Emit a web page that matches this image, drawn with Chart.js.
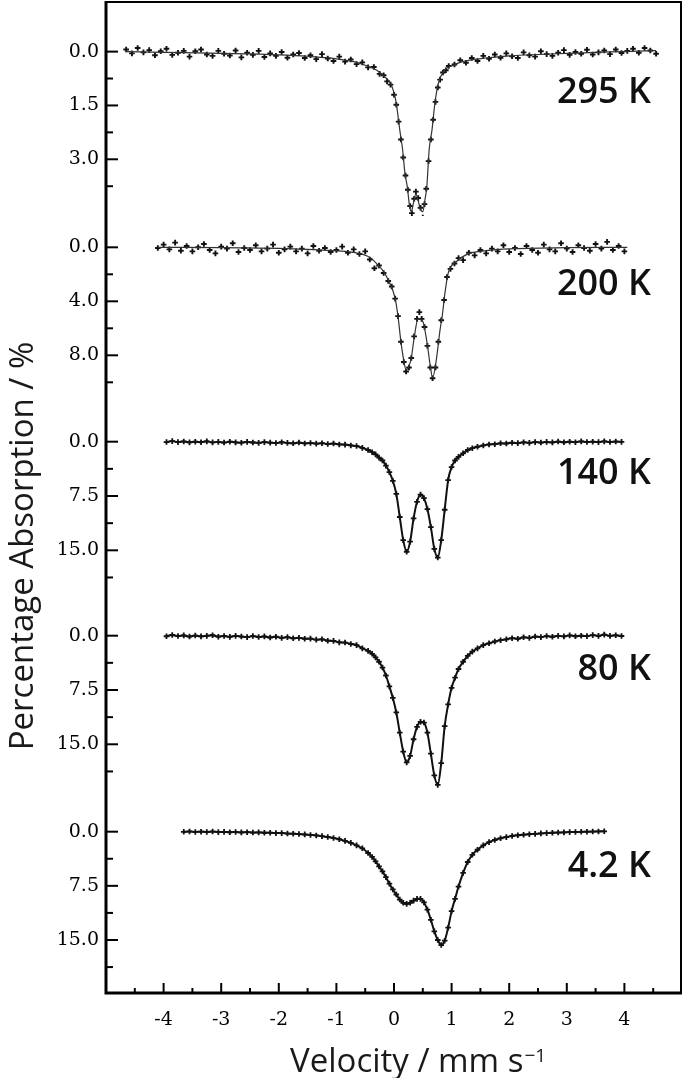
<!DOCTYPE html>
<html>
<head>
<meta charset="utf-8">
<script src="https://cdn.jsdelivr.net/npm/chart.js@4.4.1/dist/chart.umd.min.js"></script>
<style>
  html, body { margin: 0; padding: 0; background: #fff; }
  #wrap { position: relative; width: 685px; height: 1078px; }
</style>
</head>
<body>
<div id="wrap"><canvas id="mossbauer"></canvas></div>
<script>
// spectra from top to bottom
const temperatures = ['295 K', '200 K', '140 K', '80 K', '4.2 K'];

// velocity axis, mm/s
const velTicks = [-4, -3, -2, -1, 0, 1, 2, 3, 4];
const velMinorTicks = [-4.5, -3.5, -2.5, -1.5, -0.5, 0.5, 1.5, 2.5, 3.5, 4.5];

// absorption ticks (%) for each spectrum
const absTicks = [[0, 1.5, 3.0], [0, 4, 8], [0, 7.5, 15], [0, 7.5, 15], [0, 7.5, 15]];
const absMinorTicks = [[0.75, 2.25, 3.75], [2, 6, 10], [3.75, 11.25, 18.75], [3.75, 11.25, 18.75], [3.75, 11.25, 18.75]];

// ---- 295 K ----
const vel295 = [-4.65,-4.55,-4.45,-4.35,-4.25,-4.15,-4.05,-3.95,-3.85,-3.75,-3.65,-3.55,-3.45,-3.35,-3.25,-3.15,-3.05,-2.95,-2.85,-2.75,-2.65,-2.55,-2.45,-2.35,-2.25,-2.15,-2.05,-1.95,-1.85,-1.75,-1.65,-1.55,-1.45,-1.35,-1.25,-1.15,-1.05,-0.95,-0.85,-0.75,-0.65,-0.55,
  -0.45,-0.35,-0.25,-0.18,-0.12,-0.06,0.00,0.04,0.08,0.12,0.16,0.20,0.24,0.28,0.31,0.35,0.38,0.42,0.46,0.50,0.53,0.56,0.60,0.64,0.68,0.72,0.76,0.80,0.85,0.90,0.95,1.05,
  1.15,1.25,1.35,1.45,1.55,1.65,1.75,1.85,1.95,2.05,2.15,2.25,2.35,2.45,2.55,2.65,2.75,2.85,2.95,3.05,3.15,3.25,3.35,3.45,3.55,3.65,3.75,3.85,3.95,4.05,4.15,4.25,4.35,4.45,4.55];
const abs295 = [-0.06,0.05,-0.10,0.02,-0.04,0.10,-0.01,-0.08,0.09,0.03,-0.02,0.14,-0.01,-0.06,0.08,0.12,-0.02,0.06,0.11,-0.03,0.16,0.03,0.09,-0.02,0.15,0.05,0.12,0.01,0.17,0.08,0.04,0.18,0.10,0.21,0.07,0.19,0.26,0.14,0.28,0.22,0.35,0.30,
  0.44,0.43,0.62,0.66,0.83,0.92,1.20,1.48,1.95,2.45,2.95,3.45,3.85,4.30,4.50,4.10,3.90,4.08,4.35,4.62,4.25,3.82,3.05,2.45,1.90,1.40,1.00,0.78,0.58,0.52,0.40,0.36,
  0.24,0.31,0.18,0.26,0.12,0.20,0.08,0.17,0.05,0.13,0.18,0.02,0.10,0.14,-0.01,0.07,0.12,0.03,-0.04,0.09,0.01,0.06,-0.05,0.08,0.02,-0.03,0.07,-0.06,0.04,-0.02,-0.08,0.03,-0.10,-0.03,0.06];
const fitVel295 = [-4.65,-4,-3,-2,-1.5,-1,-0.7,-0.5,-0.3,-0.15,-0.06,0,0.04,0.1,0.15,0.19,0.23,0.27,0.3,0.34,0.38,0.42,0.46,0.5,0.54,0.57,0.61,0.66,0.71,0.77,0.88,1.0,1.19,1.48,2,2.5,3,3.5,4,4.55];
const fit295 = [0,0.02,0.05,0.09,0.13,0.2,0.28,0.38,0.52,0.72,0.88,1.15,1.44,2.18,2.74,3.39,3.76,4.3,4.46,4.2,3.97,4.15,4.4,4.46,4.1,3.76,2.74,2.18,1.44,0.88,0.51,0.4,0.28,0.2,0.12,0.08,0.05,0.02,0,-0.03];

// ---- 200 K ----
const vel200 = [-4.1,-4.0,-3.9,-3.8,-3.7,-3.6,-3.5,-3.4,-3.3,-3.2,-3.1,-3.0,-2.9,-2.8,-2.7,-2.6,-2.5,-2.4,-2.3,-2.2,-2.1,-2.0,-1.9,-1.8,-1.7,-1.6,-1.5,-1.4,-1.3,-1.2,-1.1,-1.0,-0.9,-0.8,-0.7,-0.6,-0.5,
  -0.42,-0.34,-0.26,-0.18,-0.10,-0.04,0.02,0.07,0.12,0.17,0.21,0.26,0.30,0.35,0.40,0.44,0.48,0.53,0.58,0.63,0.67,0.72,0.77,0.82,0.87,0.92,0.98,1.05,1.12,1.2,1.3,1.4,
  1.5,1.6,1.7,1.8,1.9,2.0,2.1,2.2,2.3,2.4,2.5,2.6,2.7,2.8,2.9,3.0,3.1,3.2,3.3,3.4,3.5,3.6,3.7,3.8,3.9,4.0];
const abs200 = [0.05,-0.2,0.15,-0.35,0.25,-0.1,0.3,0.0,-0.25,0.2,0.45,-0.05,0.1,-0.3,0.35,0.05,0.2,-0.15,0.3,0.1,-0.2,0.4,0.15,-0.05,0.3,0.1,0.45,-0.1,0.25,0.05,0.35,0.2,-0.05,0.4,0.15,0.5,0.3,
  0.9,1.55,1.35,1.9,2.5,2.9,3.8,5.1,7.0,8.5,9.2,8.9,8.2,6.6,5.3,4.8,5.3,5.9,7.3,8.9,9.7,8.9,7.0,5.4,3.9,2.2,1.6,1.2,0.8,0.95,0.4,0.6,
  0.2,0.45,0.1,0.3,-0.15,0.35,0.05,0.5,-0.1,0.2,0.4,-0.2,0.15,0.3,-0.3,0.1,0.35,-0.15,0.05,0.25,-0.25,0.1,-0.4,0.2,-0.1,0.3];
const fitVel200 = [-4.1,-3,-2,-1.5,-1.15,-0.8,-0.56,-0.4,-0.28,-0.18,-0.1,0.02,0.07,0.12,0.17,0.21,0.26,0.30,0.35,0.42,0.47,0.51,0.58,0.63,0.67,0.73,0.80,0.84,0.88,0.94,1.08,1.31,1.6,2.0,3.0,4.05];
const fit200 = [0,0.02,0.08,0.15,0.22,0.32,0.5,0.8,1.31,1.8,2.42,3.78,5.14,6.99,8.4,9.09,8.8,8.2,6.7,5.26,5.35,5.6,7.24,8.8,9.66,8.47,6.1,5.0,3.53,1.93,1.07,0.45,0.25,0.12,0.03,0];

// ---- 140 K and 80 K (same channels) ----
const velLow = [-3.95,-3.85,-3.75,-3.65,-3.55,-3.45,-3.35,-3.25,-3.15,-3.05,-2.95,-2.85,-2.75,-2.65,-2.55,-2.45,-2.35,-2.25,-2.15,-2.05,-1.95,-1.85,-1.75,-1.65,-1.55,-1.45,-1.35,-1.25,-1.15,-1.05,-0.95,-0.85,-0.75,-0.65,-0.55,-0.45,
  -0.38,-0.32,-0.26,-0.20,-0.14,-0.08,-0.02,0.04,0.10,0.16,0.22,0.28,0.34,0.40,0.46,0.52,0.58,0.64,0.70,0.76,0.82,0.88,0.94,1.00,1.06,1.12,1.20,1.28,1.36,1.45,
  1.55,1.65,1.75,1.85,1.95,2.05,2.15,2.25,2.35,2.45,2.55,2.65,2.75,2.85,2.95,3.05,3.15,3.25,3.35,3.45,3.55,3.65,3.75,3.85,3.95];
const abs140 = [0.05,-0.08,0.06,-0.03,0.09,0.0,0.07,-0.05,0.1,0.02,0.12,0.0,0.09,0.14,0.03,0.11,0.16,0.06,0.13,0.19,0.08,0.17,0.22,0.12,0.24,0.18,0.27,0.21,0.32,0.26,0.38,0.40,0.52,0.60,0.85,1.15,
  1.45,1.75,2.2,2.6,3.3,4.2,5.4,7.2,10.4,13.6,15.2,13.8,10.6,8.3,7.3,7.8,9.3,11.8,14.8,16.0,13.6,9.4,5.3,3.5,2.6,2.1,1.6,1.15,0.9,0.7,
  0.52,0.38,0.35,0.22,0.25,0.14,0.2,0.09,0.16,0.06,0.12,0.03,0.1,-0.02,0.08,0.01,0.07,-0.04,0.05,0.0,0.06,-0.05,0.04,-0.02,0.03];
const abs80 = [0.08,-0.1,0.05,-0.04,0.12,-0.02,0.1,0.02,-0.06,0.14,0.04,0.16,0.02,0.12,0.2,0.05,0.18,0.1,0.25,0.14,0.3,0.2,0.36,0.3,0.42,0.4,0.55,0.5,0.7,0.72,0.92,0.95,1.15,1.3,1.75,2.1,
  2.5,3.0,3.6,4.4,5.5,7.0,8.6,10.6,13.4,16.0,17.5,16.6,14.3,12.6,11.9,12.0,13.4,16.3,19.3,20.6,17.6,12.5,9.5,7.2,5.8,4.6,3.6,2.8,2.2,1.75,
  1.3,1.05,0.8,0.62,0.5,0.35,0.42,0.22,0.3,0.12,0.2,0.05,0.15,0.02,0.1,-0.04,0.08,0.0,0.06,-0.08,0.03,-0.15,0.02,-0.05,0.04];

// ---- 4.2 K ----
const vel4 = [-3.65,-3.55,-3.45,-3.35,-3.25,-3.15,-3.05,-2.95,-2.85,-2.75,-2.65,-2.55,-2.45,-2.35,-2.25,-2.15,-2.05,-1.95,-1.85,-1.75,-1.65,-1.55,-1.45,-1.35,-1.25,-1.15,-1.05,-0.95,-0.85,-0.75,-0.65,-0.55,-0.45,
  -0.38,-0.32,-0.26,-0.20,-0.14,-0.08,-0.02,0.04,0.10,0.16,0.22,0.28,0.34,0.40,0.46,0.52,0.58,0.64,0.70,0.76,0.82,0.88,0.94,1.00,1.06,1.12,1.20,1.28,1.36,1.45,
  1.55,1.65,1.75,1.85,1.95,2.05,2.15,2.25,2.35,2.45,2.55,2.65,2.75,2.85,2.95,3.05,3.15,3.25,3.35,3.45,3.55,3.65];
const abs4 = [0.02,-0.03,0.04,0.0,0.05,-0.02,0.06,0.03,0.08,0.04,0.1,0.07,0.12,0.1,0.15,0.14,0.2,0.2,0.26,0.28,0.33,0.38,0.45,0.52,0.62,0.74,0.88,1.05,1.28,1.55,1.9,2.3,2.95,
  3.5,4.1,4.8,5.5,6.3,7.2,8.0,8.7,9.4,9.85,10.0,9.85,9.55,9.3,9.3,9.8,10.8,12.2,13.8,15.0,15.7,15.1,13.3,11.0,9.3,7.6,5.7,4.2,3.2,2.5,
  1.9,1.45,1.15,0.92,0.75,0.6,0.5,0.42,0.35,0.3,0.24,0.2,0.15,0.12,0.1,0.06,0.05,0.02,0.0,-0.02,-0.03,-0.05];

// layout of the stacked panels (pixel heights and visible ranges)
const panelHeight = [215, 196, 194, 196, 191];
const panelMin = [-1.41, -2.32, -4.10, -4.10, -4.11];
const panelMax = [4.58, 12.2, 22.69, 22.97, 22.34];
const labelDrop = [51, 48, 42, 44, 45];

const toXY = (xs, ys) => xs.map((x, i) => ({ x: x, y: ys[i] }));

const markers = (xs, ys, axis) => ({
  data: toXY(xs, ys), yAxisID: axis, showLine: false,
  pointStyle: 'cross', pointRadius: 2.8, pointBorderWidth: 1.9,
  pointBorderColor: '#111', borderColor: '#111'
});
const fitLine = (xs, ys, axis) => ({
  data: toXY(xs, ys), yAxisID: axis, pointRadius: 0,
  borderColor: '#333', borderWidth: 1.2, cubicInterpolationMode: 'monotone'
});
const lineWithMarkers = (xs, ys, axis) => ({
  data: toXY(xs, ys), yAxisID: axis,
  borderColor: '#111', borderWidth: 2, cubicInterpolationMode: 'monotone',
  pointStyle: 'cross', pointRadius: 2.8, pointBorderWidth: 1.8, pointBorderColor: '#111'
});

const datasets = [
  fitLine(fitVel295, fit295, 'y0'), markers(vel295, abs295, 'y0'),
  fitLine(fitVel200, fit200, 'y1'), markers(vel200, abs200, 'y1'),
  lineWithMarkers(velLow, abs140, 'y2'),
  lineWithMarkers(velLow, abs80, 'y3'),
  lineWithMarkers(vel4, abs4, 'y4')
];

const tickFont = { family: 'DejaVu Serif', size: 19 };

// no extra room for overhanging tick labels
const noOverhang = s => { s.paddingTop = 0; s.paddingBottom = 0; s.paddingLeft = 0; s.paddingRight = 0; };

const scales = {
  x: {
    type: 'linear', position: 'bottom', min: -5, max: 5,
    grid: { display: false, drawTicks: false }, border: { display: false },
    afterBuildTicks: s => { s.ticks = velTicks.map(v => ({ value: v })); },
    afterFit: s => { s.height = 85; noOverhang(s); },
    ticks: { font: tickFont, color: '#000', padding: 16, autoSkip: false, maxRotation: 0, callback: v => String(v) }
  }
};
temperatures.forEach((t, i) => {
  scales['y' + i] = {
    type: 'linear', position: 'left', stack: 'spectra', stackWeight: panelHeight[i], weight: 5 - i,
    reverse: true, min: panelMin[i], max: panelMax[i],
    grid: { display: false, drawTicks: false }, border: { display: false },
    afterBuildTicks: s => { s.ticks = absTicks[i].map(v => ({ value: v })); },
    afterFit: s => { s.width = 106; noOverhang(s); },
    ticks: { font: tickFont, color: '#000', padding: 7, autoSkip: false, callback: v => v.toFixed(1) }
  };
});

const frame = {
  id: 'frame',
  afterDraw(chart) {
    const { ctx, chartArea: a } = chart;
    const xs = chart.scales.x;
    ctx.save();
    ctx.strokeStyle = '#000';
    ctx.lineCap = 'butt';
    ctx.lineWidth = 2;
    ctx.beginPath();
    ctx.moveTo(a.left, a.top + 1); ctx.lineTo(a.right - 1, a.top + 1); ctx.lineTo(a.right - 1, a.bottom);
    ctx.stroke();
    ctx.lineWidth = 3;
    ctx.beginPath();
    ctx.moveTo(a.left, a.top); ctx.lineTo(a.left, a.bottom); ctx.lineTo(a.right, a.bottom);
    ctx.stroke();

    // inward tick marks
    ctx.lineWidth = 2;
    const hTick = (y, len) => { ctx.beginPath(); ctx.moveTo(a.left, y); ctx.lineTo(a.left + len, y); ctx.stroke(); };
    const vTick = (x, len) => { ctx.beginPath(); ctx.moveTo(x, a.bottom); ctx.lineTo(x, a.bottom - len); ctx.stroke(); };
    temperatures.forEach((t, i) => {
      const s = chart.scales['y' + i];
      absTicks[i].forEach(v => hTick(s.getPixelForValue(v), 12));
      absMinorTicks[i].forEach(v => hTick(s.getPixelForValue(v), 7));
    });
    velTicks.forEach(v => vTick(xs.getPixelForValue(v), 10));
    velMinorTicks.forEach(v => vTick(xs.getPixelForValue(v), 5));

    // temperature labels
    ctx.fillStyle = '#111';
    ctx.font = '600 36px "Open Sans"';
    ctx.textAlign = 'right';
    ctx.textBaseline = 'alphabetic';
    temperatures.forEach((t, i) => {
      const s = chart.scales['y' + i];
      ctx.fillText(t, a.right - 31, s.getPixelForValue(0) + labelDrop[i]);
    });

    // axis titles
    ctx.fillStyle = '#1a1a1a';
    ctx.font = '33px "Open Sans"';
    ctx.textAlign = 'left';
    const main = 'Velocity / mm s';
    ctx.fillText(main, 290, 1072);
    const w = ctx.measureText(main).width;
    ctx.font = '19px "Open Sans"';
    ctx.fillText('\u22121', 290 + w + 1, 1062);

    ctx.save();
    ctx.translate(33, 546);
    ctx.rotate(-Math.PI / 2);
    ctx.font = '33px "Open Sans"';
    ctx.textAlign = 'center';
    ctx.fillText('Percentage Absorption / %', 0, 0);
    ctx.restore();
    ctx.restore();
  }
};

new Chart(document.getElementById('mossbauer'), {
  type: 'line',
  data: { datasets: datasets },
  options: {
    responsive: true,
    maintainAspectRatio: false,
    animation: false,
    layout: { autoPadding: false, padding: { top: 1, right: 3, left: 0, bottom: 0 } },
    plugins: { legend: { display: false }, tooltip: { enabled: false } },
    scales: scales
  },
  plugins: [frame]
});
</script>
</body>
</html>
